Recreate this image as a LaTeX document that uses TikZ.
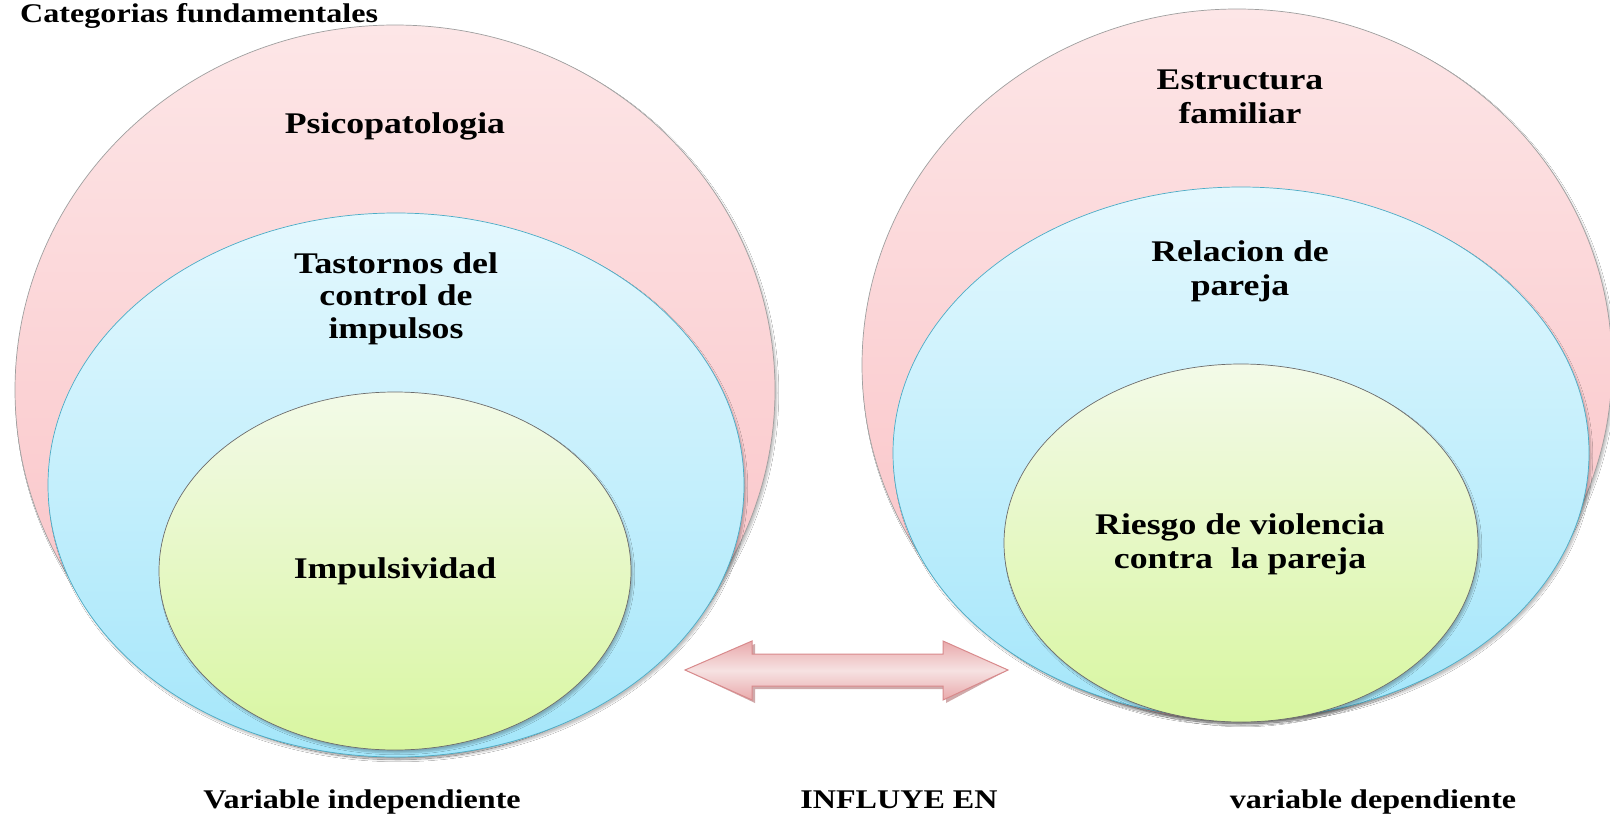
\documentclass[tikz,border=0pt]{standalone}
\usepackage{fontspec}
\newfontfamily\lbl[FakeStretch=1.19]{Liberation Serif}
\usetikzlibrary{shapes.geometric,shadows.blur}
\definecolor{pinkT}{HTML}{FDE6E7}
\definecolor{pinkB}{HTML}{F9BEC2}
\definecolor{blueT}{HTML}{E4F8FE}
\definecolor{blueB}{HTML}{A4E6FA}
\definecolor{blueL}{HTML}{4BACC6}
\definecolor{greenT}{HTML}{F3FAE8}
\definecolor{greenB}{HTML}{D8F6A0}
\definecolor{arrE}{HTML}{D88A8C}
\definecolor{arrO}{HTML}{E9A9AB}
\definecolor{arrI}{HTML}{F6E2E2}
\begin{document}
\begin{tikzpicture}[x=1pt,y=-1pt,
  ell/.style={ellipse, inner sep=0pt, line width=0.7pt,
    blur shadow={shadow xshift=2pt, shadow yshift=-3pt, shadow blur steps=6, shadow opacity=25}},
  outerell/.style={ell, draw=gray!75, top color=pinkT, bottom color=pinkB},
  midell/.style={ell, draw=blueL, top color=blueT, bottom color=blueB},
  innerell/.style={ell, draw=gray!85!black, top color=greenT, bottom color=greenB},
  lab/.style={font=\lbl\bfseries\fontsize{30}{33}\selectfont, inner sep=0pt, anchor=base},
  foot/.style={font=\lbl\bfseries\fontsize{27}{30}\selectfont, inner sep=0pt, anchor=base}]
\useasboundingbox (0,0) rectangle (1610,819);
\clip (0,0) rectangle (1610,819);
\fill[white] (0,0) rectangle (1610,819);

% left group
\node[outerell, minimum width=760pt, minimum height=730pt] (LO) at (395,390) {};
\node[midell, minimum width=696pt, minimum height=544pt] (LM) at (396,485) {};
\node[innerell, minimum width=472pt, minimum height=358pt] (LI) at (395,571) {};

% right group
\node[outerell, minimum width=750pt, minimum height=712pt] (RO) at (1237,365) {};
\node[midell, minimum width=696pt, minimum height=532pt] (RM) at (1241,453) {};
\node[innerell, minimum width=474pt, minimum height=358pt] (RI) at (1241,543) {};

% labels
\node[lab] (t1) at (395,133) {Psicopatologia};
\node[lab] (t2a) at (396,273) {Tastornos del};
\node[lab] (t2b) at (396,305.5) {control de};
\node[lab] (t2c) at (396,338) {impulsos};
\node[lab] (t3) at (395,578) {Impulsividad};
\node[lab] (t4a) at (1240,89) {Estructura};
\node[lab] (t4b) at (1240,123) {familiar};
\node[lab] (t5a) at (1240,261) {Relacion de};
\node[lab] (t5b) at (1240,295) {pareja};
\node[lab] (t6a) at (1240,534) {Riesgo de violencia};
\node[lab] (t6b) at (1240,568) {contra\ \ la pareja};

% double arrow
\coordinate (aL) at (685,670);
\coordinate (aR) at (1008,670);
\fill[arrE!70!gray, opacity=0.7, xshift=3pt, yshift=-3pt]
  (aL) -- (752,641) -- (752,654) -- (943,654) -- (943,641) -- (aR)
  -- (943,700) -- (943,686) -- (752,686) -- (752,700) -- cycle;
\draw[arrE, line width=1pt, top color=arrO, bottom color=arrO, middle color=arrI]
  (aL) -- (752,641) -- (752,654) -- (943,654) -- (943,641) -- (aR)
  -- (943,700) -- (943,686) -- (752,686) -- (752,700) -- cycle;

% title and footer
\node[foot, anchor=base west] (title) at (20,22) {Categorias fundamentales};
\node[foot] (f1) at (362,808) {Variable independiente};
\node[foot] (f2) at (899,808) {INFLUYE EN};
\node[foot] (f3) at (1373,808) {variable dependiente};
\end{tikzpicture}
\end{document}
